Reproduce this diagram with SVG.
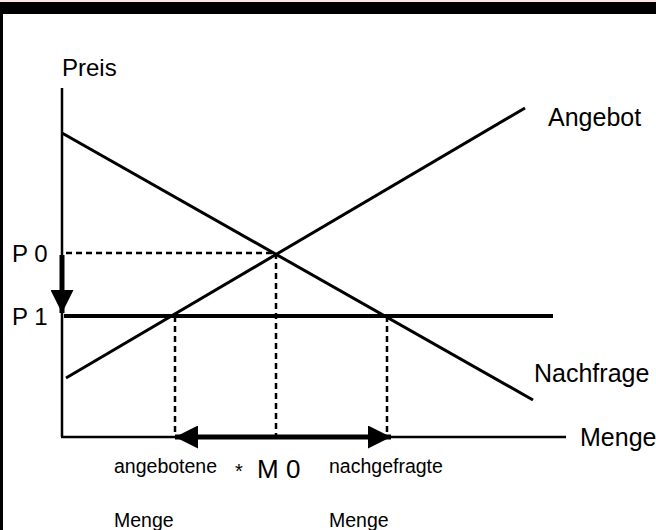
<svg xmlns="http://www.w3.org/2000/svg" width="656" height="530" viewBox="0 0 656 530">
<defs>
<style>
text{font-family:"Liberation Sans",Arial,sans-serif;fill:#000}
.lbl{font-size:24px}
.rl{font-size:25px}
.sm{font-size:19.5px}
.ax{stroke:#000;stroke-width:2.5;fill:none}
.curve{stroke:#000;stroke-width:3;fill:none}
.dash{stroke:#000;stroke-width:2.5;stroke-dasharray:6 4;fill:none}
</style>
<marker id="ah" viewBox="0 0 10 10" refX="10" refY="5" markerWidth="4.6" markerHeight="4.6" markerUnits="strokeWidth" orient="auto-start-reverse">
<path d="M0,0 L10,5 L0,10 z" fill="#000"/>
</marker>
</defs>
<rect x="0" y="0" width="656" height="530" fill="#fff"/>
<rect x="0" y="0" width="656" height="2" fill="#fde6e3"/>
<rect x="0" y="2" width="656" height="12" fill="#000"/>
<rect x="0" y="14" width="3" height="516" fill="#000"/>
<g id="connectors">
<line class="ax" x1="62" y1="88" x2="62" y2="437"/>
<line class="ax" x1="61" y1="437" x2="566" y2="437"/>
<line class="dash" x1="66" y1="253" x2="276" y2="253"/>
<line class="dash" x1="276" y1="253" x2="276" y2="437"/>
<line class="dash" x1="175" y1="316" x2="175" y2="437"/>
<line class="dash" x1="387" y1="316" x2="387" y2="437"/>
<line stroke="#000" stroke-width="4" x1="64" y1="316" x2="553" y2="316"/>
<line class="curve" x1="66" y1="378" x2="525" y2="108"/>
<line class="curve" x1="62" y1="133" x2="533" y2="400"/>
<line stroke="#000" stroke-width="5" x1="62" y1="255" x2="62" y2="313" marker-end="url(#ah)"/>
<line stroke="#000" stroke-width="5" x1="175" y1="437" x2="391" y2="437" marker-start="url(#ah)" marker-end="url(#ah)"/>
</g>
<g id="preis"><text class="lbl" x="62" y="76">Preis</text></g>
<g id="p0"><text class="lbl" x="12" y="262">P 0</text></g>
<g id="p1"><text class="lbl" x="12" y="325">P 1</text></g>
<g id="angebot"><text class="rl" x="548" y="126">Angebot</text></g>
<g id="nachfrage"><text class="rl" x="534" y="382">Nachfrage</text></g>
<g id="menge"><text class="rl" x="580" y="446">Menge</text></g>
<g id="angebotene"><text class="sm" x="114" y="473">angebotene</text><text class="sm" x="114" y="527">Menge</text></g>
<g id="m0"><text x="235" y="478"><tspan font-size="20px">*</tspan><tspan font-size="26px" x="257">M 0</tspan></text></g>
<g id="nachgefragte"><text class="sm" x="329" y="473">nachgefragte</text><text class="sm" x="329" y="527">Menge</text></g>
</svg>
